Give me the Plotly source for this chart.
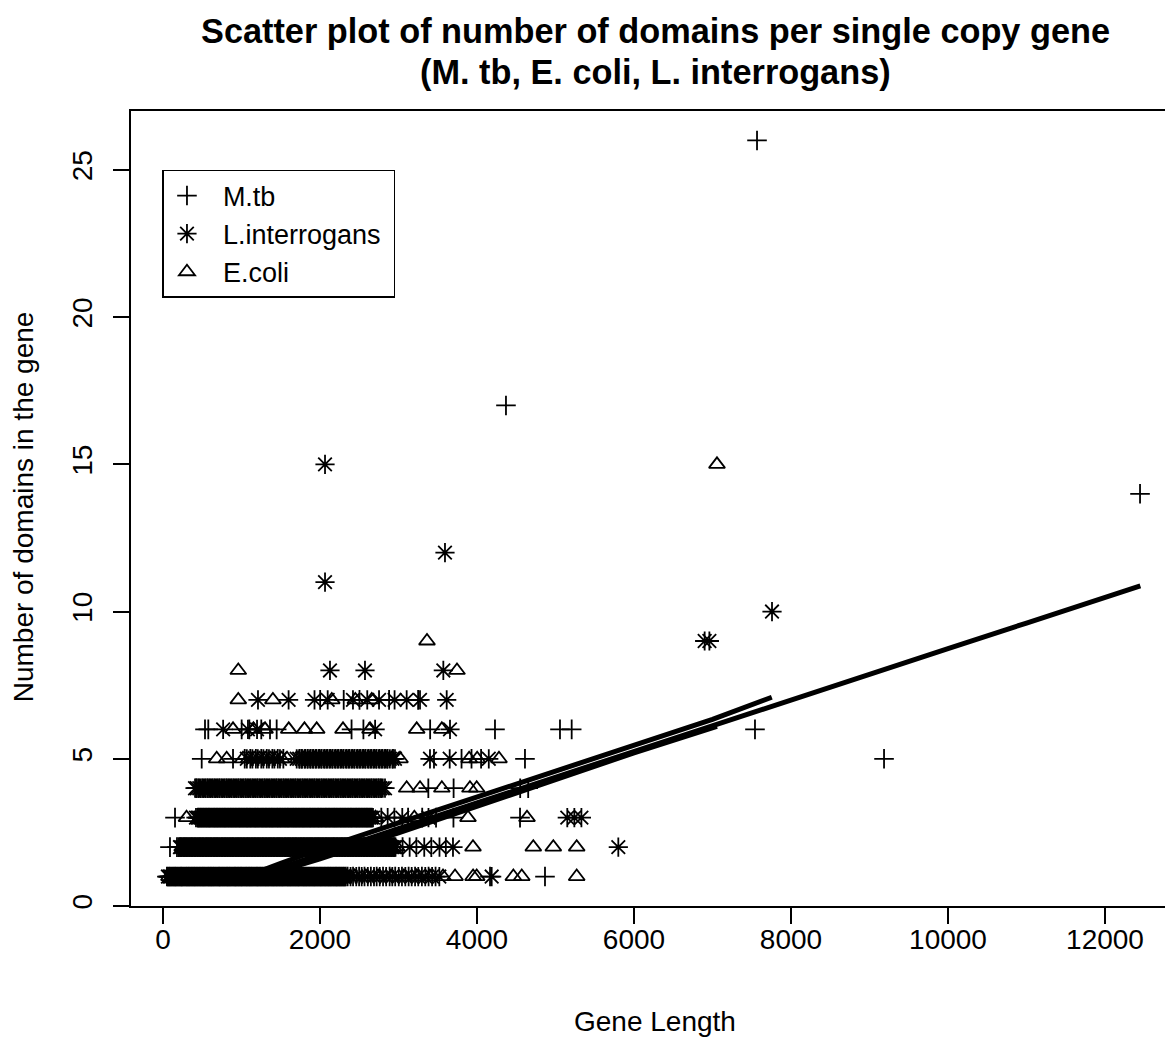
import plotly.graph_objects as go

# ---------------- data (gene length per number of domains) ----------------
# M. tb  (+)
mtb_d1 = [50, 70, 88, 110, 131, 150, 168, 190, 212, 231, 249, 271, 293, 312, 331, 352, 372, 392, 411, 432, 453, 473,
          494, 513, 532, 554, 575, 594, 613, 633, 652, 674, 696, 715, 733, 754, 774, 795, 815, 834, 853, 875, 897, 916,
          935, 956, 976, 995, 1014, 1036, 1057, 1076, 1096, 1115, 1134, 1156, 1178, 1197, 1216, 1237, 1257, 1277,
          1298, 1317, 1336, 1358, 1379, 1398, 1417, 1438, 1458, 1479, 1499, 1518, 1537, 1559, 1581, 1600, 1619, 1640,
          1660, 1681, 1701, 1720, 1739, 1761, 1782, 1801, 1820, 1841, 1861, 1882, 1902, 1922, 1941, 1962, 1983, 2003,
          2022, 2043, 2063, 2084, 2104, 2123, 2142, 2164, 2185, 2204, 2223, 2244, 2264, 2285, 2305, 2328, 2352,
          2421, 2498, 2567, 2648, 2722, 2803, 2887, 2958, 3044, 3129, 3211, 3298, 3383, 3472, 4166, 4866]
mtb_d2 = [89, 178, 198, 217, 238, 259, 278, 297, 318, 339, 358, 378, 398, 418, 439, 459, 478, 498, 519, 540, 559, 579,
          599, 619, 640, 660, 679, 699, 720, 741, 760, 780, 800, 820, 841, 861, 880, 900, 921, 942, 961, 981, 1001,
          1021, 1042, 1062, 1081, 1101, 1122, 1143, 1162, 1182, 1202, 1222, 1243, 1263, 1282, 1302, 1323, 1344, 1363,
          1383, 1403, 1423, 1444, 1464, 1483, 1503, 1524, 1545, 1564, 1584, 1604, 1624, 1645, 1665, 1684, 1704, 1725,
          1746, 1765, 1785, 1805, 1825, 1846, 1866, 1885, 1905, 1926, 1947, 1966, 1986, 2006, 2026, 2047, 2067, 2086,
          2106, 2127, 2148, 2167, 2187, 2207, 2227, 2248, 2268, 2287, 2307, 2328, 2349, 2368, 2388, 2408, 2428, 2449,
          2469, 2488, 2508, 2529, 2550, 2569, 2589, 2609, 2629, 2650, 2670, 2689, 2709, 2730, 2751, 2770, 2790, 2810,
          2830, 2851, 2871, 2890, 2910, 2931, 2951, 3052, 3228, 3418, 3603]
mtb_d3 = [153, 446, 466, 486, 507, 527, 548, 568, 587, 607, 628, 649, 668, 688, 708, 728, 749, 769, 788, 808, 829, 850,
          869, 889, 909, 929, 950, 970, 989, 1009, 1030, 1051, 1070, 1090, 1110, 1130, 1151, 1171, 1190, 1210, 1231,
          1252, 1271, 1291, 1311, 1331, 1352, 1372, 1391, 1411, 1432, 1453, 1472, 1492, 1512, 1532, 1553, 1573, 1592,
          1612, 1633, 1654, 1673, 1693, 1713, 1733, 1754, 1774, 1793, 1813, 1834, 1855, 1874, 1894, 1914, 1934, 1955,
          1975, 1994, 2014, 2035, 2056, 2075, 2095, 2115, 2135, 2156, 2176, 2195, 2215, 2236, 2257, 2276, 2296, 2316,
          2336, 2357, 2377, 2396, 2416, 2437, 2458, 2477, 2497, 2517, 2537, 2558, 2578, 2597, 2617, 2638, 2660,
          2781, 2948, 3122, 3302, 3478, 3700, 4548]
mtb_d4 = [422, 452, 481, 512, 543, 573, 602, 633, 664, 694, 723, 754, 785, 815, 844, 875, 906, 936, 965, 996, 1027,
          1057, 1086, 1117, 1148, 1178, 1207, 1238, 1269, 1299, 1328, 1359, 1390, 1420, 1449, 1480, 1511, 1541, 1570,
          1601, 1632, 1662, 1691, 1722, 1753, 1783, 1812, 1843, 1874, 1904, 1933, 1964, 1995, 2025, 2054, 2085, 2116,
          2146, 2175, 2206, 2237, 2267, 2296, 2327, 2358, 2388, 2417, 2448, 2479, 2509, 2538, 2569, 2600, 2630, 2659,
          2690, 2721, 2750, 2780, 3380, 3702, 4550, 4652]
mtb_d5 = [493, 892, 1041, 1112, 1183, 1252, 1322, 1393, 1462, 1533, 1742, 1770, 1811, 1845, 1882, 1915, 1951, 1990,
          2022, 2060, 2093, 2130, 2162, 2200, 2233, 2270, 2302, 2340, 2373, 2410, 2442, 2480, 2513, 2550, 2582, 2620,
          2653, 2690, 2722, 2760, 2793, 2830, 2862, 2930, 3452, 3803, 3930, 4052, 4611, 9185]
mtb_d6 = [535, 577, 1002, 1100, 1252, 1363, 1448, 2402, 2553, 3403, 4229, 5057, 5206, 7541]
mtb_d7 = [2002, 2302, 2503, 2880, 3250]
mtb_d14 = [12446]
mtb_d17 = [4369]
mtb_d26 = [7567]

# L. interrogans  (*)
lint_d1 = [63, 82, 102, 123, 144, 163, 183, 204, 225, 243, 262, 284, 306, 325, 344, 365, 386, 405, 424, 445, 466, 486,
           507, 526, 545, 567, 588, 607, 626, 646, 667, 688, 709, 727, 746, 767, 787, 808, 828, 847, 867, 889, 910,
           929, 948, 969, 989, 1008, 1028, 1049, 1070, 1089, 1109, 1128, 1148, 1170, 1191, 1210, 1229, 1250, 1270,
           1290, 1311, 1330, 1349, 1371, 1392, 1411, 1431, 1451, 1471, 1492, 1512, 1531, 1551, 1573, 1594, 1613, 1632,
           1653, 1673, 1694, 1714, 1733, 1753, 1774, 1795, 1814, 1833, 1854, 1874, 1895, 1915, 1934, 1954, 1975, 1996,
           2015, 2035, 2056, 2076, 2097, 2117, 2136, 2156, 2177, 2198, 2217, 2236, 2257, 2277, 2298, 2318, 2389,
           2462, 2531, 2609, 2688, 2761, 2843, 2921, 3003, 3087, 3168, 3252, 3341, 3428, 3520, 4187]
lint_d2 = [216, 231, 252, 272, 291, 310, 331, 352, 371, 391, 411, 431, 452, 472, 491, 511, 532, 553, 572, 592, 612,
           632, 653, 673, 692, 712, 733, 754, 773, 793, 813, 833, 854, 874, 893, 913, 934, 955, 974, 994, 1014, 1034,
           1055, 1075, 1094, 1114, 1135, 1156, 1175, 1195, 1215, 1235, 1256, 1276, 1295, 1315, 1336, 1357, 1376, 1396,
           1416, 1436, 1457, 1477, 1496, 1516, 1537, 1558, 1577, 1597, 1617, 1637, 1658, 1678, 1697, 1717, 1738, 1759,
           1778, 1798, 1818, 1838, 1859, 1879, 1898, 1918, 1939, 1960, 1979, 1999, 2019, 2039, 2060, 2080, 2099, 2119,
           2140, 2161, 2180, 2200, 2220, 2240, 2261, 2281, 2300, 2320, 2341, 2362, 2381, 2401, 2421, 2441, 2462, 2482,
           2501, 2521, 2542, 2563, 2582, 2602, 2622, 2642, 2663, 2683, 2702, 2722, 2743, 2764, 2783, 2803, 2823, 2843,
           2864, 2884, 2903, 2923, 2943, 2962, 3142, 3328, 3522, 3694, 5800]
lint_d3 = [420, 440, 459, 479, 499, 520, 540, 561, 581, 600, 620, 641, 662, 681, 701, 721, 741, 762, 782, 801, 821,
           842, 863, 882, 902, 922, 942, 963, 983, 1002, 1022, 1043, 1064, 1083, 1103, 1123, 1143, 1164, 1184, 1203,
           1223, 1244, 1265, 1284, 1304, 1324, 1344, 1365, 1385, 1404, 1424, 1445, 1466, 1485, 1505, 1525, 1545, 1566,
           1586, 1605, 1625, 1646, 1667, 1686, 1706, 1726, 1746, 1767, 1787, 1806, 1826, 1847, 1868, 1887, 1907, 1927,
           1947, 1968, 1988, 2007, 2027, 2048, 2069, 2088, 2108, 2128, 2148, 2169, 2189, 2208, 2228, 2249, 2270, 2289,
           2309, 2329, 2349, 2370, 2390, 2409, 2429, 2450, 2471, 2490, 2510, 2530, 2550, 2571, 2591, 2610, 2630, 2652,
           2675, 2862, 3048, 3382, 5150, 5240, 5330]
lint_d4 = [408, 432, 462, 501, 532, 563, 593, 622, 653, 684, 714, 743, 774, 805, 835, 864, 895, 926, 956, 985, 1016,
           1047, 1077, 1106, 1137, 1168, 1198, 1227, 1258, 1289, 1319, 1348, 1379, 1410, 1440, 1469, 1500, 1531, 1561,
           1590, 1621, 1652, 1682, 1711, 1742, 1773, 1803, 1832, 1863, 1894, 1924, 1953, 1984, 2015, 2045, 2074, 2105,
           2136, 2166, 2195, 2226, 2257, 2287, 2316, 2347, 2378, 2408, 2437, 2468, 2499, 2529, 2558, 2589, 2620, 2650,
           2679, 2710, 2741, 2770, 2800, 2828]
lint_d5 = [1068, 1139, 1208, 1279, 1350, 1419, 1490, 1703, 1735, 1768, 1803, 1839, 1873, 1908, 1943, 1979, 2014, 2050,
           2084, 2119, 2155, 2190, 2224, 2259, 2294, 2330, 2364, 2399, 2434, 2470, 2504, 2539, 2574, 2610, 2644, 2679,
           2714, 2750, 2784, 2819, 2854, 2890, 2922, 2955, 3401, 3652, 4150]
lint_d6 = [766, 1082, 1198, 2702, 3656]
lint_d7 = [1210, 1600, 1930, 2098, 2420, 2602, 2752, 2950, 3104, 3274, 3614]
lint_d8 = [2127, 2573, 3571]
lint_d9 = [6900, 6960]
lint_d10 = [7758]
lint_d11 = [2064]
lint_d12 = [3592]
lint_d15 = [2064]

# E. coli  (triangle)
ecoli_d1 = [76, 115, 157, 196, 238, 276, 319, 357, 399, 437, 479, 520, 558, 601, 639, 681, 722, 759, 800, 841, 880,
            923, 961, 1002, 1041, 1083, 1122, 1161, 1204, 1242, 1283, 1324, 1362, 1405, 1444, 1484, 1525, 1564, 1607,
            1645, 1686, 1727, 1766, 1808, 1846, 1887, 1928, 1967, 2009, 2048, 2089, 2130, 2169, 2211, 2249, 2290, 2334,
            2440, 2585, 2740, 2905, 3068, 3230, 3400, 3567, 3720, 3950, 3996, 4463, 4570, 5270]
ecoli_d2 = [244, 285, 323, 365, 404, 444, 485, 524, 566, 605, 645, 686, 725, 767, 806, 846, 887, 926, 968, 1007, 1047,
            1088, 1127, 1169, 1208, 1248, 1289, 1328, 1370, 1409, 1449, 1490, 1529, 1571, 1610, 1650, 1691, 1730, 1772,
            1811, 1851, 1892, 1931, 1973, 2012, 2052, 2093, 2132, 2174, 2213, 2253, 2294, 2333, 2375, 2414, 2454, 2495,
            2534, 2576, 2615, 2655, 2696, 2735, 2777, 2816, 2856, 2897, 2936, 2977, 3949, 4717, 4972, 5270]
ecoli_d3 = [300, 472, 512, 553, 594, 633, 675, 714, 754, 795, 834, 876, 915, 955, 996, 1035, 1077, 1116, 1156, 1197,
            1236, 1278, 1317, 1357, 1398, 1437, 1479, 1518, 1558, 1599, 1638, 1680, 1719, 1759, 1800, 1839, 1881, 1920,
            1960, 2001, 2040, 2082, 2121, 2161, 2202, 2241, 2283, 2322, 2362, 2403, 2442, 2484, 2523, 2563, 2604, 2643,
            2708, 3202, 3885, 4637]
ecoli_d4 = [522, 583, 642, 704, 763, 825, 884, 946, 1005, 1067, 1126, 1188, 1247, 1309, 1368, 1430, 1489, 1551, 1610,
            1672, 1731, 1793, 1852, 1914, 1973, 2035, 2094, 2156, 2215, 2277, 2336, 2398, 2457, 2519, 2578, 2640, 2699,
            3104, 3274, 3552, 3910, 3996]
ecoli_d5 = [684, 811, 1019, 1092, 1161, 1232, 1301, 1372, 1441, 1512, 1580, 1720, 1790, 1861, 1930, 2001, 2072, 2141,
            2212, 2281, 2352, 2421, 2492, 2561, 2632, 2701, 2772, 2841, 2912, 3019, 3900, 4002, 4280]
ecoli_d6 = [892, 1152, 1300, 1602, 1802, 1958, 2293, 2637, 3232, 3552]
ecoli_d7 = [959, 1400, 2150, 2450, 2659]
ecoli_d8 = [959, 3745]
ecoli_d9 = [3363]
ecoli_d15 = [7057]

# smoothed fit lines
mtb_fit_x = [100, 1100, 1500, 2000, 3000, 4000, 5000, 6000, 7000, 8000, 9000, 10000, 11000, 12450]
mtb_fit_y = [1.0, 1.0, 1.3, 1.75, 2.63, 3.5, 4.38, 5.26, 6.13, 7.0, 7.87, 8.74, 9.61, 10.87]
lint_fit_x = [100, 1100, 1500, 2000, 3000, 4000, 5000, 6000, 7000, 7755]
lint_fit_y = [1.0, 1.05, 1.45, 1.93, 2.82, 3.69, 4.57, 5.45, 6.34, 7.09]
ecoli_fit_x = [100, 1200, 1600, 2000, 3000, 4000, 5000, 6000, 7057]
ecoli_fit_y = [1.0, 1.0, 1.28, 1.6, 2.48, 3.38, 4.3, 5.2, 6.1]

x_ticks = [0, 2000, 4000, 6000, 8000, 10000, 12000]
y_ticks = [0, 5, 10, 15, 20, 25]

# ---------------- assemble ----------------
def flatten(levels):
    xs, ys = [], []
    for d, vals in levels:
        xs.extend(vals)
        ys.extend([d] * len(vals))
    return xs, ys

mtb_x, mtb_y = flatten([(1, mtb_d1), (2, mtb_d2), (3, mtb_d3), (4, mtb_d4), (5, mtb_d5), (6, mtb_d6),
                        (7, mtb_d7), (14, mtb_d14), (17, mtb_d17), (26, mtb_d26)])
lint_x, lint_y = flatten([(1, lint_d1), (2, lint_d2), (3, lint_d3), (4, lint_d4), (5, lint_d5), (6, lint_d6),
                          (7, lint_d7), (8, lint_d8), (9, lint_d9), (10, lint_d10), (11, lint_d11),
                          (12, lint_d12), (15, lint_d15)])
ecoli_x, ecoli_y = flatten([(1, ecoli_d1), (2, ecoli_d2), (3, ecoli_d3), (4, ecoli_d4), (5, ecoli_d5),
                            (6, ecoli_d6), (7, ecoli_d7), (8, ecoli_d8), (9, ecoli_d9), (15, ecoli_d15)])

FONT = "Liberation Sans, Arial, sans-serif"
PAD = "\u00a0\u202f"
fig = go.Figure()

fig.add_trace(go.Scatter(x=mtb_x, y=mtb_y, mode="markers", name=PAD + "M.tb",
                         marker=dict(symbol="cross-thin-open", size=14, color="black",
                                     line=dict(color="black", width=1.8))))
fig.add_trace(go.Scatter(x=lint_x, y=lint_y, mode="markers", name=PAD + "L.interrogans\u00a0",
                         marker=dict(symbol="asterisk-open", size=16, color="black",
                                     line=dict(color="black", width=1.8))))
fig.add_trace(go.Scatter(x=ecoli_x, y=ecoli_y, mode="markers", name=PAD + "E.coli",
                         marker=dict(symbol="triangle-up-open", size=14, color="black",
                                     line=dict(color="black", width=1.8))))

for fx, fy in [(ecoli_fit_x, ecoli_fit_y), (lint_fit_x, lint_fit_y), (mtb_fit_x, mtb_fit_y)]:
    fig.add_trace(go.Scatter(x=fx, y=fy, mode="lines", showlegend=False, hoverinfo="skip",
                             line=dict(color="black", width=5)))

# page body adds an 8px offset; figure is sized so that it fills the 1173x1038 window
fig.update_layout(
    width=1165, height=1030,
    margin=dict(l=123, r=0, t=103, b=132),
    paper_bgcolor="white", plot_bgcolor="white",
    font=dict(family=FONT, size=28, color="black"),
    showlegend=True,
    legend=dict(x=0.0302, y=0.9258, xanchor="left", yanchor="top",
                bordercolor="black", borderwidth=1.5, bgcolor="white",
                font=dict(family=FONT, size=27, color="black"),
                itemwidth=36, tracegroupgap=0),
    annotations=[
        dict(text="<b>Scatter plot of number of domains per single copy gene</b>", x=0.5033, y=1.1006,
             xref="paper", yref="paper", showarrow=False, xanchor="center", yanchor="middle",
             font=dict(family=FONT, size=34.3, color="black")),
        dict(text="<b>(M. tb, E. coli, L. interrogans)</b>", x=0.5033, y=1.0491,
             xref="paper", yref="paper", showarrow=False, xanchor="center", yanchor="middle",
             font=dict(family=FONT, size=34.3, color="black")),
        dict(text="Gene Length", x=0.5033, y=-0.1447, xref="paper", yref="paper", showarrow=False,
             xanchor="center", yanchor="middle", font=dict(family=FONT, size=28, color="black")),
        dict(text="Number of domains in the gene", x=-0.1023, y=0.502, xref="paper", yref="paper",
             showarrow=False, textangle=-90, xanchor="center", yanchor="middle",
             font=dict(family=FONT, size=28, color="black")),
    ],
)

fig.update_xaxes(range=[-407.6, 12866], tickmode="array", tickvals=x_ticks,
                 ticktext=[str(v) for v in x_ticks],
                 ticks="outside", ticklen=16, tickwidth=1.5, tickcolor="black",
                 showline=True, linewidth=1.5, linecolor="black", mirror=True,
                 showgrid=False, zeroline=False, ticklabelstandoff=-8)
fig.update_yaxes(range=[0, 27], tickmode="array", tickvals=y_ticks,
                 ticktext=[str(v) for v in y_ticks], tickangle=-90,
                 ticks="outside", ticklen=16, tickwidth=1.5, tickcolor="black",
                 showline=True, linewidth=1.5, linecolor="black", mirror=False,
                 showgrid=False, zeroline=False, ticklabelstandoff=10)

fig.write_html("out.html")
